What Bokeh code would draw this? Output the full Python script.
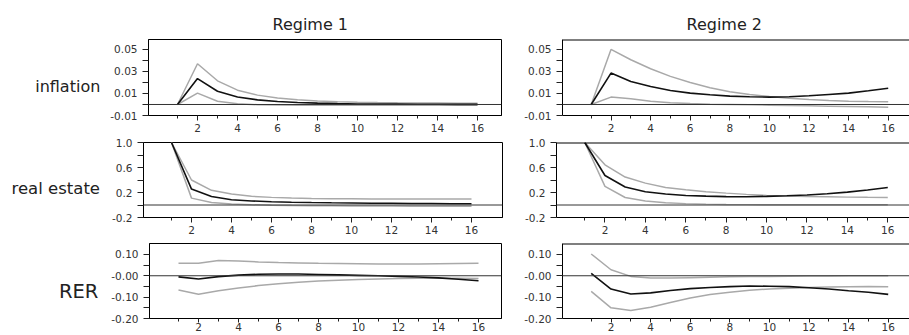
from bokeh.plotting import figure
from bokeh.layouts import row, column
from bokeh.models import Span, FixedTicker, PrintfTickFormatter
from bokeh.embed import file_html
from bokeh.resources import INLINE

periods = list(range(1, 17))
regimes = ["Regime 1", "Regime 2"]
variables = ["inflation", "real estate", "RER"]

infl_r1_mid = [0, 0.0235, 0.012, 0.0068, 0.0042, 0.0027, 0.0018, 0.0012, 0.0008, 0.0005, 0.0004, 0.0003, 0.0002, 0.0002, 0.0001, 0.0001]
infl_r1_up = [0, 0.037, 0.0215, 0.013, 0.0085, 0.0058, 0.0042, 0.0032, 0.0025, 0.002, 0.0017, 0.0015, 0.0014, 0.0013, 0.0012, 0.0012]
infl_r1_lo = [0, 0.0103, 0.003, 0.0006, -0.0002, -0.0005, -0.0006, -0.0007, -0.0007, -0.0008, -0.0008, -0.0008, -0.0008, -0.0008, -0.0008, -0.0008]

infl_r2_mid = [0, 0.0285, 0.0209, 0.0164, 0.0127, 0.0103, 0.0088, 0.0076, 0.0070, 0.0067, 0.0070, 0.0079, 0.0091, 0.0103, 0.0124, 0.0148]
infl_r2_up = [0, 0.050, 0.0406, 0.0324, 0.0255, 0.020, 0.0152, 0.0115, 0.0091, 0.0073, 0.0057, 0.0045, 0.0036, 0.0030, 0.0026, 0.0024]
infl_r2_lo = [0, 0.0067, 0.0052, 0.003, 0.0015, 0.0008, 0.0003, 0.0, -0.0003, -0.0006, -0.0009, -0.0012, -0.0015, -0.0018, -0.0021, -0.0024]

re_r1_mid = [1.0, 0.255, 0.137, 0.085, 0.065, 0.053, 0.045, 0.039, 0.035, 0.032, 0.029, 0.027, 0.025, 0.023, 0.021, 0.020]
re_r1_up = [1.0, 0.40, 0.235, 0.175, 0.14, 0.122, 0.111, 0.105, 0.101, 0.099, 0.097, 0.096, 0.095, 0.095, 0.095, 0.095]
re_r1_lo = [1.0, 0.11, 0.04, 0.015, 0.003, -0.004, -0.008, -0.011, -0.013, -0.015, -0.016, -0.017, -0.018, -0.019, -0.020, -0.020]

re_r2_mid = [1.0, 0.472, 0.287, 0.212, 0.175, 0.153, 0.142, 0.134, 0.132, 0.138, 0.148, 0.160, 0.180, 0.206, 0.240, 0.280]
re_r2_up = [1.0, 0.643, 0.447, 0.35, 0.28, 0.244, 0.212, 0.19, 0.17, 0.153, 0.142, 0.137, 0.131, 0.126, 0.123, 0.121]
re_r2_lo = [1.0, 0.297, 0.12, 0.063, 0.037, 0.022, 0.014, 0.009, 0.006, 0.004, 0.003, 0.003, 0.003, 0.004, 0.004, 0.005]

rer_r1_mid = [-0.005, -0.015, -0.004, 0.003, 0.007, 0.008, 0.008, 0.006, 0.004, 0.002, 0.0, -0.003, -0.006, -0.010, -0.016, -0.023]
rer_r1_up = [0.059, 0.059, 0.071, 0.069, 0.065, 0.062, 0.060, 0.058, 0.057, 0.056, 0.055, 0.055, 0.055, 0.056, 0.057, 0.058]
rer_r1_lo = [-0.067, -0.087, -0.070, -0.057, -0.046, -0.037, -0.030, -0.025, -0.021, -0.018, -0.015, -0.013, -0.012, -0.012, -0.012, -0.013]

rer_r2_mid = [0.011, -0.062, -0.085, -0.080, -0.069, -0.060, -0.055, -0.051, -0.048, -0.049, -0.051, -0.056, -0.062, -0.070, -0.077, -0.087]
rer_r2_up = [0.102, 0.028, -0.003, -0.011, -0.011, -0.009, -0.007, -0.005, -0.004, -0.003, -0.002, -0.001, -0.001, 0.0, 0.0, 0.0]
rer_r2_lo = [-0.073, -0.150, -0.163, -0.147, -0.125, -0.104, -0.088, -0.077, -0.068, -0.062, -0.058, -0.055, -0.052, -0.051, -0.050, -0.051]

x_major = [2, 4, 6, 8, 10, 12, 14, 16]
x_minor = [1, 3, 5, 7, 9, 11, 13, 15]

FONT = "DejaVu Sans"
BAND = "#a9a9a9"
MID = "#111111"


def make_panel(mid, up, lo, yr, yticks, yminor, fmt, overrides, *, left, frame_w, right, top, frame_h, bottom,
               x_start, x_per, title=None, ylabel=None, label_standoff=10, label_size="16px", right_col=False,
               xtick_out=5, xlabel_standoff=3):
    x_end = x_start + frame_w / x_per
    kw = {}
    if title is None:
        kw["title"] = None
    p = figure(frame_width=frame_w, frame_height=frame_h,
               x_range=(x_start, x_end), y_range=yr,
               output_backend="svg", toolbar_location=None,
               min_border_left=left, min_border_right=right, min_border_top=top, min_border_bottom=bottom, **kw)
    p.grid.visible = False
    p.background_fill_color = "white"
    p.border_fill_color = "white"
    if right_col:
        p.outline_line_color = None
        p.add_layout(Span(location=yr[1], dimension="width", line_color="black", line_width=2))
    else:
        p.outline_line_color = "black"
        p.outline_line_alpha = 1
        p.outline_line_width = 1

    xa = p.below[0]
    xa.ticker = FixedTicker(ticks=x_major, minor_ticks=x_minor)
    xa.major_tick_out = xtick_out
    xa.minor_tick_out = 3
    xa.major_tick_in = 0
    xa.minor_tick_in = 0
    xa.major_label_standoff = xlabel_standoff
    ya = p.left[0]
    ya.ticker = FixedTicker(ticks=yticks, minor_ticks=yminor)
    ya.major_tick_out = 6
    ya.minor_tick_out = 6
    ya.major_tick_in = 0
    ya.minor_tick_in = 0
    ya.major_label_standoff = 5
    ya.formatter = PrintfTickFormatter(format=fmt)
    if overrides:
        ya.major_label_overrides = overrides
    for ax in (xa, ya):
        ax.axis_line_color = "black"
        ax.major_tick_line_color = "#222222"
        ax.minor_tick_line_color = "#222222"
        ax.major_label_text_font = FONT
        ax.major_label_text_font_size = "10.5px"
        ax.major_label_text_color = "#333333"
    if ylabel:
        ya.axis_label = "\n" + ylabel
        ya.axis_label_orientation = "horizontal"
        ya.axis_label_text_font = FONT
        ya.axis_label_text_font_size = label_size
        ya.axis_label_text_font_style = "normal"
        ya.axis_label_text_color = "#222222"
        ya.axis_label_text_line_height = 0.9
        ya.axis_label_standoff = label_standoff
    if title:
        p.title.text = title
        p.title.align = "left"
        p.title.offset = 124
        p.title.standoff = 12
        p.title.text_font = FONT
        p.title.text_font_size = "16px"
        p.title.text_font_style = "normal"
        p.title.text_color = "#222222"
    p.add_layout(Span(location=0, dimension="width", line_color="#333333", line_width=1))
    p.line(periods, up, line_color=BAND, line_width=1.5)
    p.line(periods, lo, line_color=BAND, line_width=1.5)
    p.line(periods, mid, line_color=MID, line_width=1.6)
    return p


infl_ticks = [-0.01, 0.01, 0.03, 0.05]
infl_minor = [0.0, 0.02, 0.04]
re_ticks = [-0.2, 0.2, 0.6, 1.0]
re_minor = [0.0, 0.4, 0.8]
rer_ticks = [-0.2, -0.1, 0.0, 0.1]
rer_minor = [-0.15, -0.05, 0.05]

p11 = make_panel(infl_r1_mid, infl_r1_up, infl_r1_lo, (-0.01, 0.059), infl_ticks, infl_minor, "%.2f", None,
                 left=148, frame_w=353, right=10, top=39, frame_h=76, bottom=22, x_start=-0.45, x_per=20,
                 title=regimes[0], ylabel=variables[0], label_standoff=7, label_size="16px")
p12 = make_panel(infl_r2_mid, infl_r2_up, infl_r2_lo, (-0.01, 0.059), infl_ticks, infl_minor, "%.2f", None,
                 left=51, frame_w=347, right=0, top=39, frame_h=76, bottom=22, x_start=-0.45, x_per=19.8,
                 title=regimes[1], right_col=True)
p21 = make_panel(re_r1_mid, re_r1_up, re_r1_lo, (-0.2, 1.0), re_ticks, re_minor, "%.1f", None,
                 left=143, frame_w=359, right=4, top=5, frame_h=75, bottom=21, x_start=-0.4, x_per=20,
                 ylabel=variables[1], label_standoff=9, label_size="16.5px")
p22 = make_panel(re_r2_mid, re_r2_up, re_r2_lo, (-0.2, 1.0), re_ticks, re_minor, "%.1f", None,
                 left=50, frame_w=353, right=0, top=5, frame_h=75, bottom=21, x_start=-0.4, x_per=20.2,
                 right_col=True)
p31 = make_panel(rer_r1_mid, rer_r1_up, rer_r1_lo, (-0.2, 0.151), rer_ticks, rer_minor, "%.2f", {0: "-0.00"},
                 left=149, frame_w=352, right=10, top=5, frame_h=75, bottom=17, x_start=-0.45, x_per=20,
                 ylabel=variables[2], label_standoff=10, label_size="19.5px", xtick_out=4, xlabel_standoff=0)
p32 = make_panel(rer_r2_mid, rer_r2_up, rer_r2_lo, (-0.2, 0.151), rer_ticks, rer_minor, "%.2f", {0: "-0.00"},
                 left=51, frame_w=347, right=0, top=5, frame_h=75, bottom=17, x_start=-0.45, x_per=19.8,
                 right_col=True, xtick_out=4, xlabel_standoff=0)

layout = column(row(p11, p12, spacing=0), row(p21, p22, spacing=0), row(p31, p32, spacing=0), spacing=0)

with open("out.html", "w") as f:
    f.write(file_html(layout, INLINE))
